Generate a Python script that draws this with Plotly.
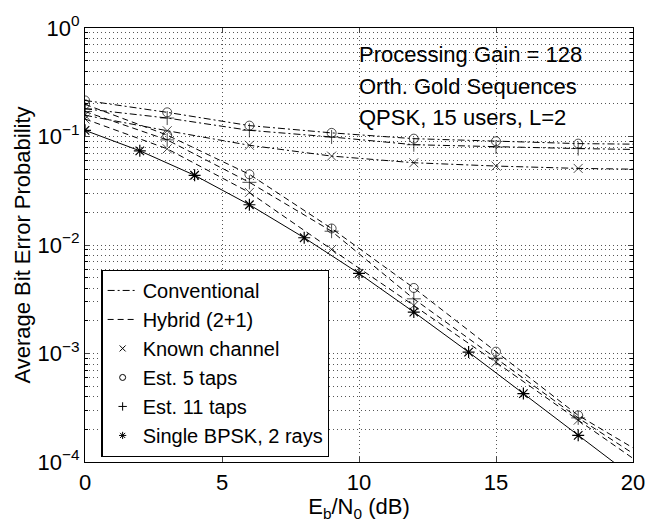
import plotly.graph_objects as go

# ---------------- data ----------------
snr_bpsk = [0, 2, 4, 6, 8, 10, 12, 14, 16, 18, 20]
ber_bpsk = [0.114, 0.0738, 0.0439, 0.0235, 0.01166, 0.00547, 0.00241, 0.00103, 4.27e-4, 1.76e-4, 7.3e-5]

snr_est = [0, 3, 6, 9, 12, 15, 18, 20]
# Conventional receiver (dash-dot)
conv_known = [0.157, 0.113, 0.083, 0.066, 0.0573, 0.0534, 0.0508, 0.050]
conv_5taps = [0.215, 0.167, 0.126, 0.108, 0.0955, 0.0904, 0.086, 0.085]
conv_11taps = [0.180, 0.148, 0.114, 0.099, 0.084, 0.080, 0.0774, 0.076]
# Hybrid (2+1) receiver (dashed)
hyb_known = [0.145, 0.077, 0.0305, 0.0091, 0.00277, 8.3e-4, 2.43e-4, 1.08e-4]
hyb_5taps = [0.198, 0.103, 0.0448, 0.0142, 0.00402, 0.00104, 2.69e-4, 1.35e-4]
hyb_11taps = [0.170, 0.093, 0.0378, 0.0134, 0.00319, 9.04e-4, 2.55e-4, 1.2e-4]

legend_names = ["Conventional", "Hybrid (2+1)", "Known channel", "Est. 5 taps",
                "Est. 11 taps", "Single BPSK, 2 rays"]
y_tickvals = [1e-4, 1e-3, 1e-2, 1e-1, 1]
y_ticktext = ["10<sup>\u22124</sup>", "10<sup>\u22123</sup>", "10<sup>\u22122</sup>",
              "10<sup>\u22121</sup>", "10<sup>0</sup>"]
x_tickvals = [0, 5, 10, 15, 20]
info_lines = ["Processing Gain = 128", "Orth. Gold Sequences", "QPSK, 15 users, L=2"]

# ---------------- styles ----------------
FONT = "Liberation Sans, Arial, Helvetica, sans-serif"
FS = 22
DASH = "6px,4px"
DASHDOT = "7px,3px,2px,3px"
SYM = {"known": "x-thin-open", "5": "circle-open", "11": "cross-thin-open", "bpsk": "asterisk-open"}

fig = go.Figure()

def marker_sizes(xs, size):
    return [size if (x % 3 == 0) else 0 for x in xs]

def add_curve(xs, ys, dash, symbol, size=9):
    fig.add_trace(go.Scatter(
        x=xs, y=ys, mode="lines+markers", showlegend=False,
        line=dict(color="black", width=1, dash=dash),
        marker=dict(symbol=symbol, size=marker_sizes(xs, size), color="black",
                    line=dict(color="black", width=1)),
    ))

add_curve(snr_est, conv_5taps, DASHDOT, SYM["5"])
add_curve(snr_est, conv_11taps, DASHDOT, SYM["11"], 10)
add_curve(snr_est, conv_known, DASHDOT, SYM["known"])
add_curve(snr_est, hyb_5taps, DASH, SYM["5"])
add_curve(snr_est, hyb_11taps, DASH, SYM["11"], 10)
add_curve(snr_est, hyb_known, DASH, SYM["known"])

fig.add_trace(go.Scatter(
    x=snr_bpsk, y=ber_bpsk, mode="lines+markers", showlegend=False,
    line=dict(color="black", width=1),
    marker=dict(symbol=SYM["bpsk"], size=10, color="black", line=dict(color="black", width=1.2)),
))

# legend-only entries
fig.add_trace(go.Scatter(x=[None], y=[None], mode="lines", name=legend_names[0],
                         line=dict(color="black", width=1, dash=DASHDOT)))
fig.add_trace(go.Scatter(x=[None], y=[None], mode="lines", name=legend_names[1],
                         line=dict(color="black", width=1, dash=DASH)))
for nm, sym in zip(legend_names[2:], [SYM["known"], SYM["5"], SYM["11"], SYM["bpsk"]]):
    fig.add_trace(go.Scatter(x=[None], y=[None], mode="markers", name=nm,
                             marker=dict(symbol=sym, size=6, color="black",
                                         line=dict(color="black", width=1))))

for i, txt in enumerate(info_lines):
    fig.add_annotation(x=10, xref="x", y=[0.938, 0.866, 0.793][i], yref="paper",
                       text=txt, showarrow=False, xanchor="left", yanchor="middle",
                       xshift=-2,
                       font=dict(size=FS, color="black", family=FONT))

minor_vals = [k * 10.0 ** e for e in range(-4, 0) for k in range(2, 10)]
GRID_DASH = "1px,3px"
GRID_COL = "#555"

fig.update_layout(
    width=662, height=524,
    margin=dict(l=85, r=29, t=25, b=61),
    paper_bgcolor="white", plot_bgcolor="white",
    font=dict(family=FONT, size=FS, color="black"),
    showlegend=True,
    legend=dict(x=0.03, y=0.443, xanchor="left", yanchor="top",
                bgcolor="white", bordercolor="black", borderwidth=1.2,
                font=dict(size=20, family=FONT), tracegroupgap=0,
                itemwidth=30),
    xaxis=dict(range=[0, 20], tickvals=x_tickvals, ticks="inside", ticklen=5,
               showline=True, linecolor="black", linewidth=1.2, mirror="ticks",
               showgrid=True, gridcolor=GRID_COL, gridwidth=1, griddash=GRID_DASH,
               zeroline=False, tickfont=dict(size=FS),
               title=dict(text="E<sub>b</sub>/N<sub>0</sub> (dB)", font=dict(size=FS), standoff=2)),
    yaxis=dict(type="log", range=[-4, 0], tickvals=y_tickvals, ticktext=y_ticktext,
               ticks="inside", ticklen=5,
               showline=True, linecolor="black", linewidth=1.2, mirror="ticks",
               showgrid=True, gridcolor=GRID_COL, gridwidth=1, griddash=GRID_DASH,
               zeroline=False, tickfont=dict(size=FS),
               minor=dict(tickvals=minor_vals, ticks="inside", ticklen=3, tickcolor="black",
                          showgrid=True, gridcolor=GRID_COL, gridwidth=1, griddash=GRID_DASH),
               title=dict(text="Average Bit Error Probability", font=dict(size=FS), standoff=0)),
)

fig.write_html("out.html", post_script="document.body.style.margin='0';",
               config={"displayModeBar": False})
